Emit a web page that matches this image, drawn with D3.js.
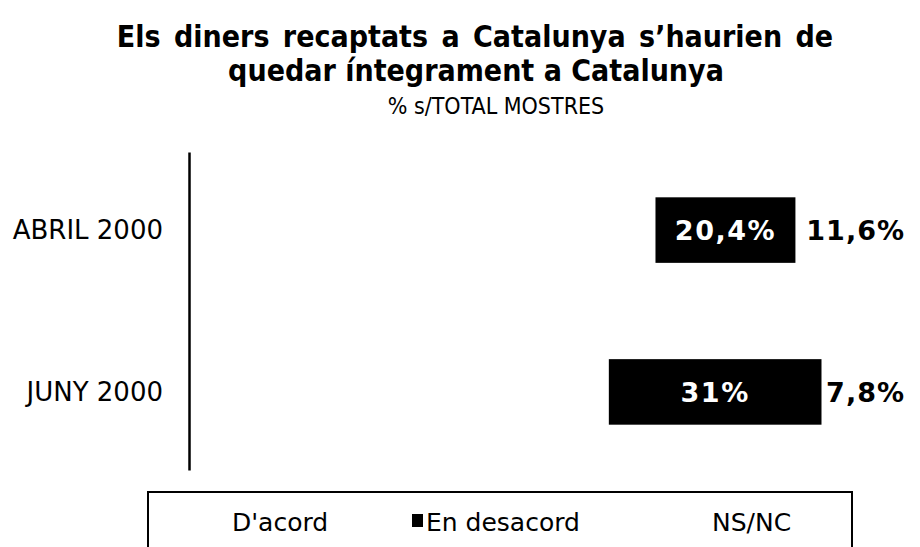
<!DOCTYPE html>
<html>
<head>
<meta charset="utf-8">
<script src="https://cdn.jsdelivr.net/npm/d3@7"></script>
<style>
  body { margin: 0; background: #fff; }
  text { font-family: "DejaVu Sans", Verdana, sans-serif; }
  .cond { font-stretch: condensed; }
</style>
</head>
<body>
<script>
const categories = ["ABRIL 2000", "JUNY 2000"];
const seriesNames = ["D'acord", "En desacord", "NS/NC"];
const acord = [68, 61.2];
const desacord = [20.4, 31];
const nsnc = [11.6, 7.8];

const width = 920;
const height = 547;

let svg = d3.select('body')
            .append('svg')
            .attr('width', width)
            .attr('height', height);

let rows = categories.map((c, i) => ({
    cat: c,
    "D'acord": acord[i],
    "En desacord": desacord[i],
    "NS/NC": nsnc[i]
}));

let stacked = d3.stack().keys(seriesNames)(rows);

let x = d3.scaleLinear().domain([0, 100]).range([189, 875]);
let y = d3.scaleBand().domain(categories).range([152, 470])
          .paddingInner(0.595).paddingOuter(0.28);

let fmt = v => String(v).replace('.', ',') + '%';

// titles
svg.append('text')
   .attr('class', 'cond')
   .attr('x', 475).attr('y', 47)
   .attr('text-anchor', 'middle')
   .attr('font-size', 30).attr('font-weight', 'bold')
   .attr('word-spacing', 4)
   .text('Els diners recaptats a Catalunya s\u2019haurien de');
svg.append('text')
   .attr('class', 'cond')
   .attr('x', 476).attr('y', 81)
   .attr('text-anchor', 'middle')
   .attr('font-size', 30).attr('font-weight', 'bold')
   .text('quedar íntegrament a Catalunya');
svg.append('text')
   .attr('class', 'cond')
   .attr('x', 496).attr('y', 114)
   .attr('text-anchor', 'middle')
   .attr('font-size', 23)
   .text('% s/TOTAL MOSTRES');

// bars: only "En desacord" is filled
let groups = svg.selectAll('g.series')
   .data(stacked)
   .enter()
   .append('g')
   .attr('class', 'series');

groups.selectAll('rect')
   .data(d => d.map(p => ({ key: d.key, p: p })))
   .enter()
   .append('rect')
   .attr('x', d => x(d.p[0]))
   .attr('y', d => y(d.p.data.cat))
   .attr('width', d => x(d.p[1]) - x(d.p[0]))
   .attr('height', y.bandwidth())
   .attr('fill', d => d.key === 'En desacord' ? '#000' : 'none');

// value labels
svg.append('g').selectAll('text')
   .data(stacked[1])
   .enter()
   .append('text')
   .attr('x', d => (x(d[0]) + x(d[1])) / 2)
   .attr('y', d => y(d.data.cat) + y.bandwidth() / 2 + 10)
   .attr('text-anchor', 'middle')
   .attr('font-size', 27).attr('font-weight', 'bold')
   .attr('letter-spacing', 1.5)
   .attr('fill', '#fff')
   .text(d => fmt(d.data['En desacord']));

svg.append('g').selectAll('text')
   .data(stacked[2])
   .enter()
   .append('text')
   .attr('x', d => x(d[1]) + 30)
   .attr('y', d => y(d.data.cat) + y.bandwidth() / 2 + 10)
   .attr('text-anchor', 'end')
   .attr('font-size', 27).attr('font-weight', 'bold')
   .attr('letter-spacing', 1)
   .attr('fill', '#000')
   .text(d => fmt(d.data['NS/NC']));

// category axis
let axis = svg.append('g')
   .attr('transform', `translate(${x(0)},0)`)
   .call(d3.axisLeft(y).tickSize(0).tickPadding(26));
axis.select('.domain').attr('stroke', '#000').attr('stroke-width', 2.5);
axis.selectAll('.tick text')
   .attr('font-family', '"DejaVu Sans", Verdana, sans-serif')
   .attr('font-size', 26)
   .attr('dy', '0.36em')
   .attr('fill', '#000');

// legend
let legend = svg.append('g');
legend.append('path')
   .attr('d', 'M148,560 V492 H852 V560')
   .attr('fill', 'none')
   .attr('stroke', '#000')
   .attr('stroke-width', 2);

let legendX = [232, 426, 712];
seriesNames.forEach((name, i) => {
    legend.append('text')
       .attr('x', legendX[i]).attr('y', 531)
       .attr('font-size', 25)
       .text(name);
});
legend.append('rect')
   .attr('x', 412).attr('y', 514)
   .attr('width', 11).attr('height', 13)
   .attr('fill', '#000');
</script>
</body>
</html>
